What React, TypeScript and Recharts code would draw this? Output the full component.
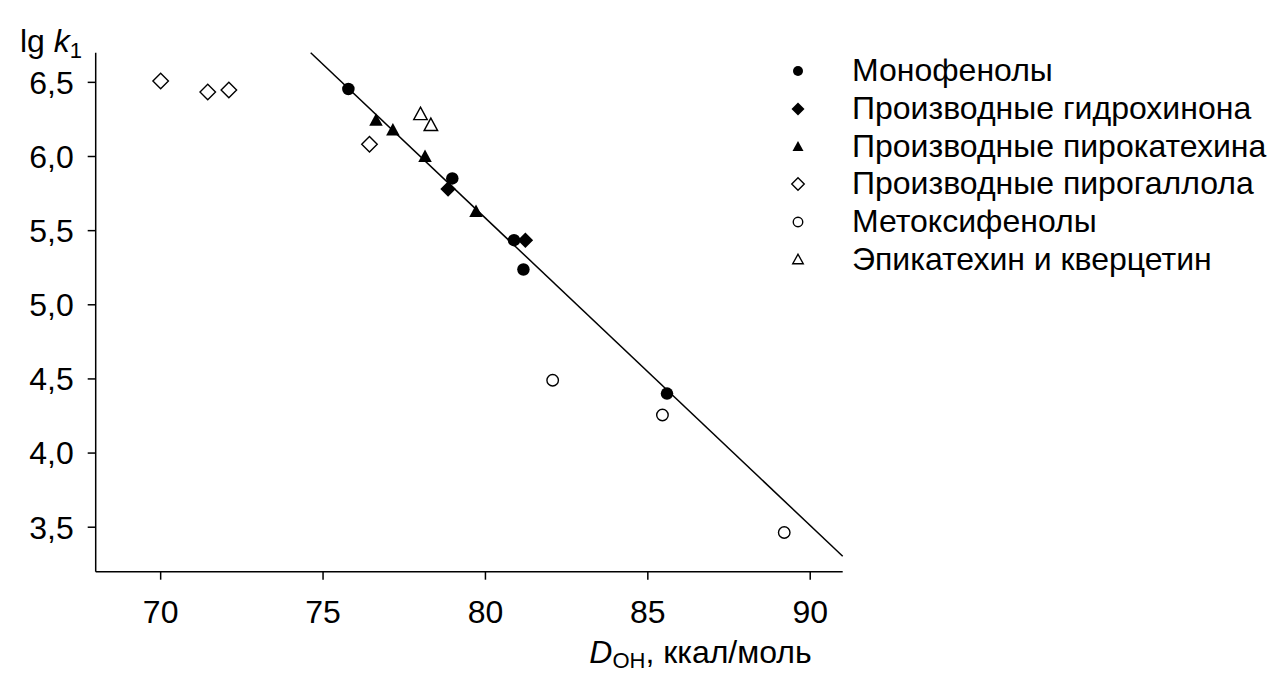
import React from 'react';
import {
  ScatterChart,
  Scatter,
  XAxis,
  YAxis,
  ReferenceLine,
  Legend,
} from 'recharts';

const FONT = '"Liberation Sans", Arial, sans-serif';

// D(O-H), kcal/mol and lg k1
const monophenolsD = [75.78, 78.98, 80.88, 81.17, 85.59];
const monophenolsLgK = [6.455, 5.852, 5.436, 5.238, 4.401];

const hydroquinoneD = [78.85, 81.23];
const hydroquinoneLgK = [5.78, 5.436];

const catecholD = [76.63, 77.15, 78.14, 79.71];
const catecholLgK = [6.25, 6.183, 6.005, 5.634];

const pyrogallolD = [70.0, 71.45, 72.1, 76.43];
const pyrogallolLgK = [6.509, 6.435, 6.448, 6.082];

const methoxyD = [82.07, 85.45, 89.2];
const methoxyLgK = [4.491, 4.257, 3.464];

const epicatechinD = [78.0, 78.32];
const epicatechinLgK = [6.291, 6.217];

// regression line end points
const fitD = [74.62, 91.0];
const fitLgK = [6.7, 3.304];

const xTicks = [70, 75, 80, 85, 90];
const yTicks = [3.5, 4.0, 4.5, 5.0, 5.5, 6.0, 6.5];

const zip = (xs: number[], ys: number[]) => xs.map((x, i) => ({ x, y: ys[i] }));

type Kind = 'circle' | 'diamond' | 'triangle' | 'oDiamond' | 'oCircle' | 'oTriangle';

const series: { name: string; kind: Kind; data: { x: number; y: number }[] }[] = [
  { name: 'Монофенолы', kind: 'circle', data: zip(monophenolsD, monophenolsLgK) },
  { name: 'Производные гидрохинона', kind: 'diamond', data: zip(hydroquinoneD, hydroquinoneLgK) },
  { name: 'Производные пирокатехина', kind: 'triangle', data: zip(catecholD, catecholLgK) },
  { name: 'Производные пирогаллола', kind: 'oDiamond', data: zip(pyrogallolD, pyrogallolLgK) },
  { name: 'Метоксифенолы', kind: 'oCircle', data: zip(methoxyD, methoxyLgK) },
  { name: 'Эпикатехин и кверцетин', kind: 'oTriangle', data: zip(epicatechinD, epicatechinLgK) },
];

function Marker({ kind, cx, cy, s }: { kind: Kind; cx: number; cy: number; s: number }) {
  const open = kind.startsWith('o');
  const fill = open ? '#fff' : '#000';
  const stroke = '#000';
  const sw = open ? 1.4 : 0;
  if (kind === 'circle' || kind === 'oCircle') {
    return <circle cx={cx} cy={cy} r={s / 2} fill={fill} stroke={stroke} strokeWidth={sw} />;
  }
  if (kind === 'diamond' || kind === 'oDiamond') {
    const h = s / 2 + 1.5;
    return (
      <polygon
        points={`${cx},${cy - h} ${cx + h},${cy} ${cx},${cy + h} ${cx - h},${cy}`}
        fill={fill}
        stroke={stroke}
        strokeWidth={sw}
      />
    );
  }
  const w = s + 1;
  const h = s;
  return (
    <polygon
      points={`${cx},${cy - h / 2} ${cx + w / 2},${cy + h / 2} ${cx - w / 2},${cy + h / 2}`}
      fill={fill}
      stroke={stroke}
      strokeWidth={sw}
    />
  );
}

const shapeFor = (kind: Kind) => (props: any) => (
  <Marker kind={kind} cx={props.cx} cy={props.cy} s={kind === 'oCircle' ? 11.5 : 12.5} />
);

const renderLegend = () => (
  <div style={{ fontFamily: FONT, fontSize: 32, color: '#000' }}>
    {series.map((s) => (
      <div key={s.name} style={{ display: 'flex', alignItems: 'center', height: 37.7 }}>
        <svg width={40} height={20} style={{ marginRight: 32 }}>
          <Marker kind={s.kind} cx={18} cy={10} s={s.kind.startsWith('o') ? 9.5 : 10} />
        </svg>
        <span style={{ whiteSpace: 'nowrap' }}>{s.name}</span>
      </div>
    ))}
  </div>
);

const XTitle = (props: any) => {
  const vb = props.viewBox;
  return (
    <text x={vb.x + vb.width - 31} y={663} textAnchor="end" fontFamily={FONT} fontSize={32} fill="#000">
      <tspan fontStyle="italic">D</tspan>
      <tspan fontSize={22} dy={5}>OH</tspan>
      <tspan dy={-5}>, ккал/моль</tspan>
    </text>
  );
};

const YTitle = (props: any) => {
  const vb = props.viewBox;
  return (
    <text x={20} y={vb.y - 1} fontFamily={FONT} fontSize={32} fill="#000">
      <tspan>lg </tspan>
      <tspan fontStyle="italic">k</tspan>
      <tspan fontSize={22} dy={6}>1</tspan>
    </text>
  );
};

export default function App() {
  const axisStyle = { fontSize: 32, fill: '#000', fontFamily: FONT };
  return (
    <div style={{ position: 'absolute', left: 0, top: 0, width: 1273, height: 673, background: '#fff' }}>
      <ScatterChart
        width={1273}
        height={673}
        margin={{ top: 52.7, right: 430.3, bottom: 11.3, left: 15.7 }}
      >
        <XAxis
          type="number"
          dataKey="x"
          domain={[68, 91]}
          ticks={xTicks}
          allowDataOverflow
          height={90}
          stroke="#000"
          strokeWidth={1.5}
          tickSize={8}
          tickMargin={21}
          tick={axisStyle}
          label={<XTitle />}
        />
        <YAxis
          type="number"
          dataKey="y"
          domain={[3.2, 6.7]}
          ticks={yTicks}
          allowDataOverflow
          width={80}
          stroke="#000"
          strokeWidth={1.5}
          tickSize={8}
          tickMargin={14}
          tick={axisStyle}
          tickFormatter={(v: number) => v.toFixed(1).replace('.', ',')}
          label={<YTitle />}
        />
        <ReferenceLine
          segment={[
            { x: fitD[0], y: fitLgK[0] },
            { x: fitD[1], y: fitLgK[1] },
          ]}
          stroke="#000"
          strokeWidth={1.5}
          ifOverflow="visible"
        />
        {series.map((s) => (
          <Scatter
            key={s.name}
            name={s.name}
            data={s.data}
            shape={shapeFor(s.kind)}
            isAnimationActive={false}
          />
        ))}
        <Legend
          layout="horizontal"
          verticalAlign="middle"
          align="center"
          content={renderLegend}
          wrapperStyle={{ position: 'absolute', left: 780, top: 52, width: 493, height: 240 }}
        />
      </ScatterChart>
    </div>
  );
}
